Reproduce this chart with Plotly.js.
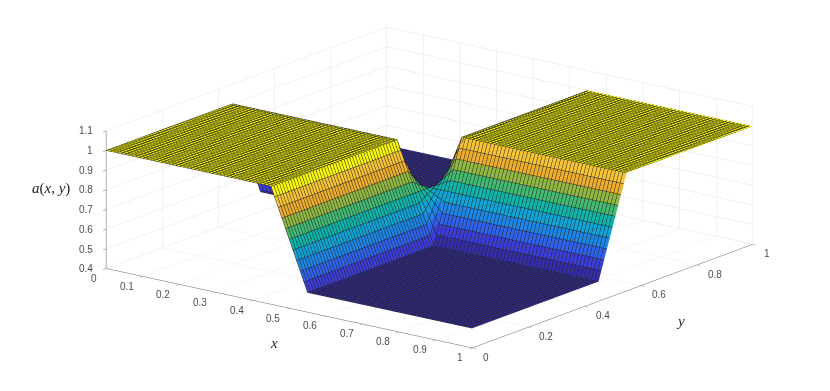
<!DOCTYPE html>
<html><head><meta charset="utf-8">
<script src="https://cdn.plot.ly/plotly-3.0.1.min.js"></script>
<style>html,body{margin:0;padding:0;background:#fff}#g{width:830px;height:391px}</style></head>
<body><div id="g"></div>
<script>
const xGrid=[0,.001,.45,.46,.47,.48,.49,.5,.51,.52,.53,.54,.55,.5501,.999,1];
const yGrid=[0,.001,.45,.46,.47,.48,.49,.5,.51,.52,.53,.54,.55,.5501,.999,1];
// heights: rows follow y from .45 to .55, columns follow x from .45 to .55
const zCore=[
[1,.95,.9,.85,.8,.75,.7,.65,.6,.55,.5],
[.95,.91,.87,.83,.79,.75,.71,.67,.63,.59,.55],
[.9,.87,.84,.81,.78,.75,.72,.69,.66,.63,.6],
[.85,.83,.81,.79,.77,.75,.73,.71,.69,.67,.65],
[.8,.79,.78,.77,.76,.75,.74,.73,.72,.71,.7],
[.75,.75,.75,.75,.75,.75,.75,.75,.75,.75,.75],
[.7,.71,.72,.73,.74,.75,.76,.77,.78,.79,.8],
[.65,.67,.69,.71,.73,.75,.77,.79,.81,.83,.85],
[.6,.63,.66,.69,.72,.75,.78,.81,.84,.87,.9],
[.55,.59,.63,.67,.71,.75,.79,.83,.87,.91,.95],
[.5,.55,.6,.65,.7,.75,.8,.85,.9,.95,1]];
// facet colour values for the same rows and columns
const cCore=[
[1,.94,.88,.82,.76,.7,.64,.58,.52,.46,.4],
[.94,.892,.844,.796,.748,.7,.652,.604,.556,.478,.4],
[.88,.844,.808,.772,.736,.7,.664,.628,.562,.496,.46],
[.82,.796,.772,.748,.724,.7,.676,.622,.568,.544,.52],
[.76,.748,.736,.724,.712,.7,.658,.616,.604,.592,.58],
[.7,.7,.7,.7,.7,.67,.64,.64,.64,.64,.64],
[.64,.652,.664,.676,.658,.64,.652,.664,.676,.688,.7],
[.58,.604,.628,.622,.616,.64,.664,.688,.712,.736,.76],
[.52,.556,.562,.568,.604,.64,.676,.712,.748,.784,.82],
[.46,.478,.496,.544,.592,.64,.688,.736,.784,.832,.88],
[.4,.4,.46,.52,.58,.64,.7,.76,.82,.88,.94]];
const cTopRow=[.4,.4,.4,.4,.46,.52,.58,.64,.7,.76,.82,.88,.94,1,1,1];
const bandColors=['#30238a','#3c3cd6','#2f62ea','#1c86e6','#0ea4d6','#0db4aa','#42ba72','#90b842','#ecae2c','#f6c434','#fafa04'];
const zTicks=[.4,.5,.6,.7,.8,.9,1,1.1];
const xTicks=[0,.1,.2,.3,.4,.5,.6,.7,.8,.9,1];
const yTicks=[0,.2,.4,.6,.8,1];

const pad=r=>[r[0],r[0],...r,r[10],r[10],r[10]];
const fill=m=>[pad(m[0]),pad(m[0]),...m.map(pad),pad(m[10]),pad(m[10]),pad(m[10])];
const zRows=fill(zCore);
const cRows=fill(cCore);
cRows[13]=cTopRow;cRows[14]=cTopRow;cRows[15]=cTopRow;

const n=bandColors.length, cmin=.341, cmax=1.001;
const cs=[];bandColors.forEach((c,i)=>{cs.push([i/n,c]);cs.push([(i+1)/n,c]);});
const ax=(extra)=>Object.assign({showbackground:false,showspikes:false,showticklabels:false,gridcolor:'#e4e4e4',gridwidth:1,linecolor:'#666',linewidth:1,
 zeroline:false,ticks:'outside',tickcolor:'#666',ticklen:5,title:{text:''},showline:true,mirror:false},extra);
const anns=[];
const tf={size:10,color:'#4d4d4d',family:'Liberation Sans'};
xTicks.forEach(v=>anns.push({x:v,y:0,z:.4,text:String(v),showarrow:false,xanchor:'right',xshift:-7,yshift:-9.5,font:tf}));
yTicks.forEach(v=>anns.push({x:1,y:v,z:.4,text:String(v),showarrow:false,xanchor:'left',xshift:9,yshift:-9,font:tf}));
zTicks.forEach(v=>anns.push({x:0,y:0,z:v,text:String(v),showarrow:false,xanchor:'right',xshift:-11,yshift:0,font:tf}));
Plotly.newPlot('g',[{type:'surface',x:xGrid,y:yGrid,z:zRows,surfacecolor:cRows,cmin:cmin,cmax:cmax,colorscale:cs,showscale:false,
 lighting:{ambient:1,diffuse:0,specular:0,roughness:1,fresnel:0},
 contours:{x:{show:true,start:0,end:1.001,size:.01,color:'#222',width:1},y:{show:true,start:0,end:1.001,size:.01,color:'#222',width:1},z:{show:false}},hoverinfo:'skip'}],
{width:830,height:391,margin:{l:0,r:0,t:0,b:0},paper_bgcolor:'#fff',showlegend:false,
 scene:{domain:{x:[.035,1],y:[.04,1]},aspectmode:'manual',aspectratio:{x:2.46,y:2.46,z:.766},
  camera:{eye:{x:1.166,y:-1.522,z:.566},up:{x:0,y:0,z:1},center:{x:0,y:0,z:0},projection:{type:'orthographic'}},
  xaxis:ax({range:[0,1],tickvals:xTicks}),yaxis:ax({range:[0,1],tickvals:yTicks}),zaxis:ax({range:[.4,1.1],tickvals:zTicks}),
  annotations:anns},
 annotations:[
  {xref:'paper',yref:'paper',x:274/830,y:1-343/391,xanchor:'center',yanchor:'middle',text:'<i>x</i>',showarrow:false,font:{size:15,family:'Liberation Serif',color:'#262626'}},
  {xref:'paper',yref:'paper',x:680/830,y:1-321/391,xanchor:'center',yanchor:'middle',text:'<i>y</i>',showarrow:false,font:{size:15,family:'Liberation Serif',color:'#262626'}},
  {xref:'paper',yref:'paper',x:51/830,y:1-188/391,xanchor:'center',yanchor:'middle',text:'<i>a</i>(<i>x</i>, <i>y</i>)',showarrow:false,font:{size:15,family:'Liberation Serif',color:'#262626'}}
 ]},{displayModeBar:false});
</script></body></html>
